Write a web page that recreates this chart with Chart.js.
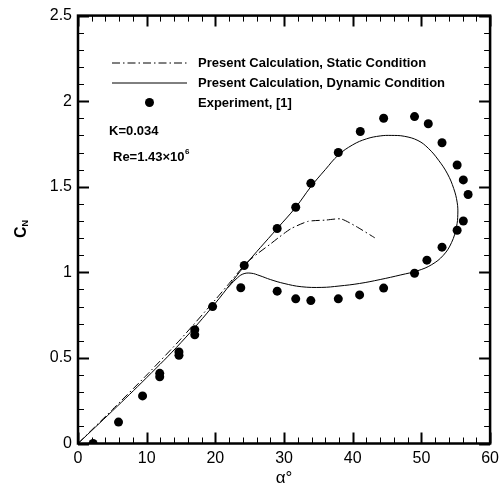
<!DOCTYPE html>
<html>
<head>
<meta charset="utf-8">
<script src="https://cdn.jsdelivr.net/npm/chart.js@4/dist/chart.umd.min.js"></script>
<style>
  html, body { margin: 0; padding: 0; background: #fff; }
  #wrap { width: 504px; height: 490px; position: relative; }
</style>
</head>
<body>
<div id="wrap"><canvas id="c"></canvas></div>
<script>
// Angle of attack (deg) and normal-force coefficient series
const staticAlpha  = [0, 5, 10, 15, 20, 22, 24.4, 26.1, 28, 29.2, 31, 33.5, 36, 38.3, 40.5, 43.2];
const staticCN     = [0, 0.198, 0.4, 0.612, 0.84, 0.935, 1.05, 1.108, 1.165, 1.203, 1.255, 1.298, 1.305, 1.312, 1.268, 1.202];

const dynamicAlpha = [0, 5, 10, 15, 20, 24.2, 29, 31.7, 33.9, 36, 37.9, 40, 42, 44, 45.6, 47.5, 49.5, 51, 52.5, 53.8,
                      54.7, 55.2, 55.3, 55.1, 54.4, 53.2, 51.5, 49.5, 47, 44, 41, 38, 35.5, 32.5, 30, 28, 26.5,
                      25.2, 24, 23, 21.8];
const dynamicCN    = [0, 0.19, 0.385, 0.59, 0.82, 1.035, 1.256, 1.38, 1.5, 1.6, 1.685, 1.745, 1.78, 1.797, 1.8, 1.795,
                      1.77, 1.725, 1.655, 1.575, 1.49, 1.41, 1.34, 1.265, 1.175, 1.1, 1.045, 1.01, 0.985, 0.958, 0.935,
                      0.92, 0.912, 0.916, 0.935, 0.958, 0.98, 0.995, 0.99, 0.96, 0.91];

const expAlpha = [2.2, 5.9, 9.4, 11.9, 11.9, 14.7, 14.7, 17.0, 17.0, 19.6, 24.2, 29.0, 31.7, 33.9, 37.9, 41.1, 44.5,
                  49.0, 51.0, 53.0, 55.2, 56.1, 56.8, 56.1, 55.2, 53.0, 50.8, 49.0, 44.5, 41.0, 37.9, 33.9, 31.7,
                  29.0, 23.7];
const expCN    = [0, 0.125, 0.278, 0.41, 0.39, 0.535, 0.515, 0.665, 0.635, 0.8, 1.04, 1.256, 1.38, 1.52, 1.7, 1.823,
                  1.9, 1.91, 1.868, 1.757, 1.627, 1.54, 1.455, 1.3, 1.246, 1.147, 1.071, 0.995, 0.908, 0.868, 0.845,
                  0.835, 0.845, 0.89, 0.91];

const xTicks = [0, 10, 20, 30, 40, 50, 60];
const yTicks = [0, 0.5, 1, 1.5, 2, 2.5];

const legendLabels = [
  'Present Calculation, Static Condition',
  'Present Calculation, Dynamic Condition',
  'Experiment, [1]'
];

const FONT = '"Liberation Sans", Arial, Helvetica, sans-serif';
const DASH_DOT = [8, 3, 1.5, 3];

function pairs(xs, ys) { return xs.map((x, i) => ({ x: x, y: ys[i] })); }

// Frame with inward ticks on all four sides, axis titles and the in-plot legend
const framePlugin = {
  id: 'frame',
  afterDraw(chart) {
    const ctx = chart.ctx;
    const a = chart.chartArea;
    const xs = chart.scales.x, ys = chart.scales.y;
    ctx.save();
    ctx.strokeStyle = '#000';

    // ticks
    for (let v = 0; v <= 60 + 1e-9; v += 2) {
      const px = Math.round(xs.getPixelForValue(v)) + 0.5;
      const major = Math.abs(v % 10) < 1e-9;
      const len = major ? 11 : 6;
      ctx.lineWidth = major ? 2 : 1;
      ctx.beginPath();
      ctx.moveTo(px, a.bottom); ctx.lineTo(px, a.bottom - len);
      ctx.moveTo(px, a.top); ctx.lineTo(px, a.top + len);
      ctx.stroke();
    }
    for (let i = 0; i <= 25; i++) {
      const v = i / 10;
      const py = Math.round(ys.getPixelForValue(v)) + 0.5;
      const major = i % 5 === 0;
      const len = major ? 11 : 6;
      ctx.lineWidth = major ? 2 : 1;
      ctx.beginPath();
      ctx.moveTo(a.left, py); ctx.lineTo(a.left + len, py);
      ctx.moveTo(a.right, py); ctx.lineTo(a.right - len, py);
      ctx.stroke();
    }

    // frame
    ctx.lineWidth = 2.5;
    ctx.strokeRect(a.left, a.top, a.right - a.left, a.bottom - a.top);

    ctx.fillStyle = '#000';

    // x title
    ctx.font = '17px ' + FONT;
    ctx.textAlign = 'center';
    ctx.textBaseline = 'middle';
    ctx.fillText('\u03b1\u00b0', (a.left + a.right) / 2, 478);

    // y title C_N (rotated)
    ctx.save();
    ctx.translate(22, 229);
    ctx.rotate(-Math.PI / 2);
    ctx.font = 'bold 16px ' + FONT;
    ctx.textAlign = 'left';
    ctx.textBaseline = 'middle';
    const cw = ctx.measureText('C').width;
    ctx.font = 'bold 9px ' + FONT;
    const nw = ctx.measureText('N').width;
    const x0 = -(cw + nw) / 2;
    ctx.font = 'bold 16px ' + FONT;
    ctx.fillText('C', x0, 0);
    ctx.font = 'bold 9px ' + FONT;
    ctx.fillText('N', x0 + cw, 4);
    ctx.restore();

    // legend
    const lx0 = 112, lx1 = 187, tx = 198;
    const rows = [62.5, 82.5, 102.5];
    ctx.lineWidth = 1;
    ctx.setLineDash(DASH_DOT);
    ctx.beginPath(); ctx.moveTo(lx0, rows[0] + 0.5); ctx.lineTo(lx1, rows[0] + 0.5); ctx.stroke();
    ctx.setLineDash([]);
    ctx.beginPath(); ctx.moveTo(lx0, rows[1] + 0.5); ctx.lineTo(lx1, rows[1] + 0.5); ctx.stroke();
    ctx.beginPath(); ctx.arc(149.5, rows[2], 4.5, 0, Math.PI * 2); ctx.fill();

    ctx.font = 'bold 13px ' + FONT;
    ctx.textAlign = 'left';
    ctx.textBaseline = 'middle';
    legendLabels.forEach((t, i) => ctx.fillText(t, tx, rows[i] + 1));

    // flow parameters
    ctx.fillText('K=0.034', 109, 131);
    const re = 'Re=1.43\u00d710';
    ctx.fillText(re, 113, 157.5);
    const rw = ctx.measureText(re).width;
    ctx.font = 'bold 8px ' + FONT;
    ctx.fillText('6', 113 + rw + 0.5, 152);

    ctx.restore();
  }
};

new Chart(document.getElementById('c'), {
  type: 'scatter',
  data: {
    datasets: [
      {
        label: legendLabels[0],
        data: pairs(staticAlpha, staticCN),
        showLine: true,
        borderColor: '#000',
        borderWidth: 1,
        borderDash: DASH_DOT,
        pointRadius: 0,
        tension: 0.2
      },
      {
        label: legendLabels[1],
        data: pairs(dynamicAlpha, dynamicCN),
        showLine: true,
        borderColor: '#000',
        borderWidth: 1,
        pointRadius: 0,
        tension: 0.4
      },
      {
        label: legendLabels[2],
        data: pairs(expAlpha, expCN),
        showLine: false,
        pointRadius: 4.5,
        pointBorderWidth: 0,
        pointBackgroundColor: '#000',
        pointBorderColor: '#000'
      }
    ]
  },
  options: {
    responsive: true,
    maintainAspectRatio: false,
    animation: false,
    layout: { padding: { top: 14.5, right: 11, left: 0, bottom: 0 } },
    plugins: { legend: { display: false }, tooltip: { enabled: false } },
    scales: {
      x: {
        type: 'linear',
        min: 0, max: 60,
        afterBuildTicks(scale) { scale.ticks = xTicks.map(v => ({ value: v })); },
        afterFit(scale) { scale.height = 46.5; },
        grid: { display: false, drawTicks: false },
        border: { display: false },
        ticks: {
          color: '#000',
          padding: 5,
          font: { family: FONT, size: 16 },
          maxRotation: 0,
          callback: v => String(v)
        }
      },
      y: {
        type: 'linear',
        min: 0, max: 2.5,
        afterBuildTicks(scale) { scale.ticks = yTicks.map(v => ({ value: v })); },
        afterFit(scale) { scale.width = 78; },
        grid: { display: false, drawTicks: false },
        border: { display: false },
        ticks: {
          color: '#000',
          padding: 6,
          font: { family: FONT, size: 16 },
          callback: v => String(v)
        }
      }
    }
  },
  plugins: [framePlugin]
});
</script>
</body>
</html>
